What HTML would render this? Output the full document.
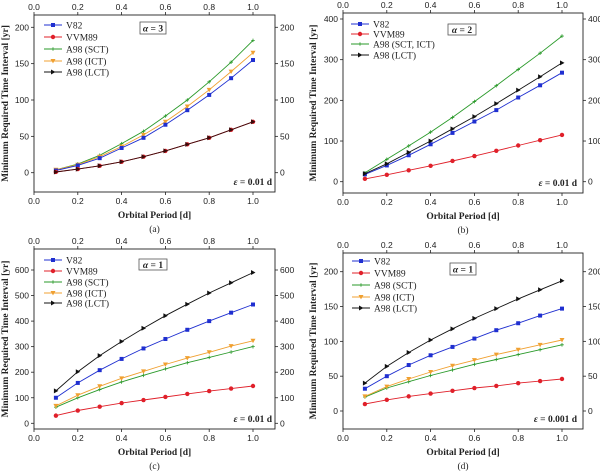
<!DOCTYPE html>
<html><head><meta charset="utf-8"><style>
html,body{margin:0;padding:0;background:#fff;width:600px;height:472px;overflow:hidden}
svg{display:block}
.tk{font-family:"Liberation Sans",sans-serif;font-size:8.5px;fill:#222}
.tt{font-family:"Liberation Serif",serif;font-size:9.5px;font-weight:bold;fill:#222}
.lg{font-family:"Liberation Serif",serif;font-size:9.5px;fill:#222}
</style></head><body>
<svg id="fig" width="600" height="472" viewBox="0 0 600 472"></svg>
<script>
const periods=[0.1,0.2,0.3,0.4,0.5,0.6,0.7,0.8,0.9,1.0];
const xTicks=[0.0,0.2,0.4,0.6,0.8,1.0];
// panel a
const aV82=[3,10,20,34,48,66,86,107,130,155];
const aVVM89=[1,5,9.5,15,22,30,39,48,59,70];
const aSCT=[4,12,24,40,57,78,100,125,152,182];
const aICT=[4,11,22,36,52,70,91,114,139,165];
const aLCT=[1,5,9.5,15,22,30,39,48,59,70];
const aYTicks=[0,50,100,150,200];
// panel b
const bV82=[18,40,65,92,120,148,176,207,237,268];
const bVVM89=[7,17,28,39,51,63,76,89,102,115];
const bSCTICT=[22,55,88,122,158,197,236,276,316,358];
const bLCT=[20,44,72,100,130,160,192,225,258,292];
const bYTicks=[0,100,200,300,400];
// panel c
const cV82=[100,158,208,252,293,330,366,400,433,465];
const cVVM89=[30,50,65,79,91,103,115,126,136,146];
const cSCT=[63,100,132,162,188,213,237,258,279,300];
const cICT=[68,110,145,176,203,230,255,278,302,323];
const cLCT=[127,202,265,320,372,421,466,510,550,590];
const cYTicks=[0,100,200,300,400,500,600];
// panel d
const dV82=[32,50,66,80,92,104,116,126,137,147];
const dVVM89=[10,16,21,25,29,33,36,40,43,46];
const dSCT=[20,33,42,51,59,67,74,81,88,95];
const dICT=[21,35,46,56,65,73,81,88,95,102];
const dLCT=[40,64,84,102,118,133,147,161,174,187];
const dYTicks=[0,50,100,150,200];

const NS="http://www.w3.org/2000/svg";
const svg=document.getElementById('fig');
function mk(tag,attrs,parent,text){const e=document.createElementNS(NS,tag);for(const k in attrs)e.setAttribute(k,attrs[k]);if(text!==undefined)e.textContent=text;(parent||svg).appendChild(e);return e;}

const STY={
 V82:{c:'#1f2fd0',m:'sq'},VVM89:{c:'#e0202a',m:'ci'},SCT:{c:'#2a9a2a',m:'pl'},
 ICT:{c:'#f0a030',m:'td'},LCT:{c:'#111',m:'tr'},SCTICT:{c:'#2a9a2a',m:'pl'}
};
function marker(g,m,x,y,c){
 if(m==='sq')return mk('rect',{x:x-2,y:y-2,width:4,height:4,fill:c},g);
 if(m==='ci')return mk('circle',{cx:x,cy:y,r:2.2,fill:c},g);
 if(m==='pl')return mk('path',{d:`M${x-1.8} ${y}h3.6M${x} ${y-1.8}v3.6`,stroke:c,'stroke-width':0.8},g);
 if(m==='td')return mk('path',{d:`M${x-2.5} ${y-2}L${x+2.5} ${y-2}L${x} ${y+2.4}Z`,fill:c},g);
 if(m==='tr')return mk('path',{d:`M${x-2} ${y-2.5}L${x+2.5} ${y}L${x-2} ${y+2.5}Z`,fill:c},g);
}

function panel(P){
 const g=mk('g',{},svg);
 
 
 const sx=v=>P.x0+(v)*(P.x1-P.x0);
 const sy=v=>P.y0-(v)/P.yRef*(P.y0-P.yR);
 const L=P.L,R=P.R,T=P.T,B=P.B;
 const frame=mk('rect',{x:L,y:T,width:R-L,height:B-T,fill:'none',stroke:'#222','stroke-width':0.9},g);
 
 
 xTicks.forEach(t=>{const x=sx(t);
  mk('line',{x1:x,y1:B,x2:x,y2:B+3,stroke:'#222','stroke-width':0.8},g);
  mk('line',{x1:x,y1:T,x2:x,y2:T-3,stroke:'#222','stroke-width':0.8},g);
  const t1=mk('text',{x:x,y:B+12,'text-anchor':'middle',class:'tk'},g,t.toFixed(1));
  
  
  const t2=mk('text',{x:x,y:T-5,'text-anchor':'middle',class:'tk'},g,t.toFixed(1));
  
  
 });
 P.yt.forEach(t=>{const y=sy(t);
  mk('line',{x1:L,y1:y,x2:L-3,y2:y,stroke:'#222','stroke-width':0.8},g);
  mk('line',{x1:R,y1:y,x2:R+3,y2:y,stroke:'#222','stroke-width':0.8},g);
  const t1=mk('text',{x:L-5,y:y+3,'text-anchor':'end',class:'tk'},g,String(t));
  
  
  const t2=mk('text',{x:R+5,y:y+3,'text-anchor':'start',class:'tk'},g,String(t));
  
  
 });
 const xl=mk('text',{x:(L+R)/2,y:B+26,'text-anchor':'middle',class:'tt'},g,'Orbital Period [d]');
 
 
 const cy=(T+B)/2;
 const yl=mk('text',{x:P.ytx,y:cy,'text-anchor':'middle',class:'tt',transform:`rotate(-90 ${P.ytx} ${cy})`},g,'Minimum Required Time Interval [yr]');
 
 
 const cap=mk('text',{x:(L+R)/2,y:B+40,'text-anchor':'middle',class:'lg'},g,'('+P.id+')');
 
 
 // series
 P.series.forEach(s=>{
  const st=STY[s.k];const c=s.col||st.c;
  const sg=mk('g',{},g);
  
  
  const d=s.v.map((v,i)=>(i?'L':'M')+sx(periods[i]).toFixed(1)+' '+sy(v).toFixed(1)).join('');
  mk('path',{d:d,fill:'none',stroke:c,'stroke-width':0.9},sg);
  s.v.forEach((v,i)=>marker(sg,st.m,sx(periods[i]),sy(v),c));
 });
 // legend
 P.legend.forEach((e,i)=>{
  const st=STY[e.k];const y=P.lgy[i];
  const lg=mk('g',{},g);
  
  
  mk('line',{x1:P.lgx,y1:y,x2:P.lgx+18,y2:y,stroke:st.c,'stroke-width':0.9},lg);
  marker(lg,st.m,P.lgx+9,y,st.c);
  mk('text',{x:P.lgx+22,y:y+3.5,class:'lg'},lg,e.t);
 });
 const ab=mk('g',{},g);
 
 
 mk('rect',{x:P.ab[0],y:P.ab[1],width:P.ab[2],height:P.ab[3],fill:'#fff',stroke:'#555','stroke-width':0.8},ab);
 const at=mk('text',{x:P.ab[0]+P.ab[2]/2,y:P.ab[1]+P.ab[3]/2+3.5,'text-anchor':'middle',class:'tt'},ab);
 mk('tspan',{'font-style':'italic'},at,'α');
 mk('tspan',{},at,' = '+P.alpha);
 const et=mk('text',{x:P.ex,y:P.ey,'text-anchor':'end',class:'tt'},g);
 
 
 mk('tspan',{'font-style':'italic'},et,'ε');
 mk('tspan',{},et,' = '+P.eps);
}

const leg5=[{k:'V82',t:'V82'},{k:'VVM89',t:'VVM89'},{k:'SCT',t:'A98 (SCT)'},{k:'ICT',t:'A98 (ICT)'},{k:'LCT',t:'A98 (LCT)'}];
panel({id:'a',L:34,R:275,T:15,B:192,x0:34,x1:253,y0:172.7,yR:27.3,yRef:200,yt:aYTicks,ytx:8,
 series:[{k:'SCT',v:aSCT},{k:'ICT',v:aICT},{k:'V82',v:aV82},{k:'VVM89',v:aVVM89},{k:'LCT',v:aLCT,col:'#3a0a0a'}],
 legend:leg5,lgx:44,lgy:[25,37,49,61,72],ab:[140,22,26,12],alpha:'3',ex:272,ey:185,eps:'0.01 d'});
panel({id:'b',L:343,R:583,T:13,B:193,x0:343,x1:562,y0:181.7,yR:19,yRef:400,yt:bYTicks,ytx:316,
 series:[{k:'SCTICT',v:bSCTICT},{k:'V82',v:bV82},{k:'LCT',v:bLCT},{k:'VVM89',v:bVVM89}],
 legend:[{k:'V82',t:'V82'},{k:'VVM89',t:'VVM89'},{k:'SCTICT',t:'A98 (SCT, ICT)'},{k:'LCT',t:'A98 (LCT)'}],
 lgx:351,lgy:[24,34,44,55],ab:[448,24,28,11],alpha:'2',ex:577,ey:186,eps:'0.01 d'});
panel({id:'c',L:34,R:275,T:249,B:429,x0:34,x1:253,y0:423.3,yR:270,yRef:600,yt:cYTicks,ytx:8,
 series:[{k:'SCT',v:cSCT},{k:'ICT',v:cICT},{k:'V82',v:cV82},{k:'VVM89',v:cVVM89},{k:'LCT',v:cLCT}],
 legend:leg5,lgx:44,lgy:[260,271,282,293,303],ab:[139,259,28,11],alpha:'1',ex:272,ey:422,eps:'0.01 d'});
panel({id:'d',L:343,R:583,T:253,B:429,x0:343,x1:562,y0:411,yR:271.7,yRef:200,yt:dYTicks,ytx:316,
 series:[{k:'SCT',v:dSCT},{k:'ICT',v:dICT},{k:'V82',v:dV82},{k:'VVM89',v:dVVM89},{k:'LCT',v:dLCT}],
 legend:leg5,lgx:352,lgy:[261,273,285,297,308],ab:[450,263,26,12],alpha:'1',ex:577,ey:422,eps:'0.001 d'});
</script>
</body></html>
